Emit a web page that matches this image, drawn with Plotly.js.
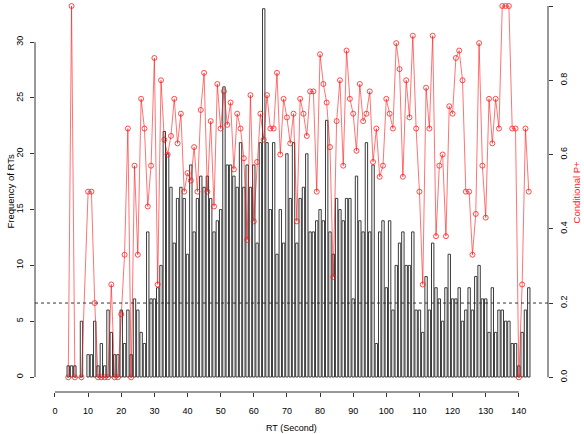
<!DOCTYPE html>
<html>
<head>
<meta charset="utf-8">
<script src="https://cdn.plot.ly/plotly-3.0.1.min.js"></script>
<style>html,body{margin:0;padding:0;background:#fff;}#chart{width:584px;height:434px;}</style>
</head>
<body>
<div id="chart"></div>
<script>
// RT bins (seconds) that contain responses
var rt = [4,5,6,8,
  10,11,12,13,14,15,16,17,18,19,
  20,21,22,23,24,25,26,27,28,29,
  30,31,32,33,34,35,36,37,38,39,
  40,41,42,43,44,45,46,47,48,49,
  50,51,52,53,54,55,56,57,58,59,
  60,61,62,63,64,65,66,67,68,69,
  70,71,72,73,74,75,76,77,78,79,
  80,81,82,83,84,85,86,87,88,89,
  90,91,92,93,94,95,96,97,98,99,
  100,101,102,103,104,105,106,107,108,109,
  110,111,112,113,114,115,116,117,118,119,
  120,121,122,123,124,125,126,127,128,129,
  130,131,132,133,134,135,136,137,138,139,
  140,141,142,143];

// Frequency of RTs per bin
var freq = [1,1,1,5,
  2,2,5,1,3,1,6,4,2,2,
  6,3,6,2,7,6,4,3,13,7,
  7,8,10,22,20,17,12,16,17,16,
  11,19,13,16,18,17,18,16,13,14,
  15,26,19,19,18,17,21,17,19,17,
  19,12,21,33,21,15,21,11,15,12,
  20,16,21,12,16,17,20,13,13,14,
  15,14,23,13,11,16,15,14,16,16,
  7,18,14,13,21,13,19,3,13,14,
  8,14,6,10,12,13,10,10,13,6,
  6,4,9,6,12,8,7,5,8,11,
  7,7,8,5,6,8,6,9,10,7,
  7,4,8,4,6,6,5,5,3,3,
  1,4,6,8];

// Conditional P+ per bin
var pplus = [0,1,0,0,
  0.5,0.5,0.2,0,0,0,0,0.25,0,0,
  0.17,0.33,0.67,0,0.57,0.33,0.75,0.67,0.46,0.57,
  0.86,0.25,0.8,0.64,0.6,0.65,0.75,0.63,0.71,0.5,
  0.55,0.53,0.62,0.5,0.72,0.82,0.5,0.69,0.46,0.79,
  0.67,0.77,0.68,0.74,0.56,0.71,0.67,0.59,0.37,0.76,
  0.42,0.58,0.71,0.64,0.76,0.67,0.67,0.82,0.6,0.75,
  0.7,0.63,0.71,0.42,0.75,0.71,0.65,0.77,0.77,0.5,
  0.87,0.79,0.74,0.62,0.27,0.69,0.8,0.57,0.88,0.75,
  0.71,0.61,0.79,0.69,0.71,0.77,0.58,0.67,0.54,0.57,
  0.75,0.71,0.67,0.9,0.83,0.54,0.8,0.7,0.92,0.67,
  0.5,0.25,0.78,0.67,0.92,0.38,0.57,0.6,0.38,0.73,
  0.71,0.86,0.88,0.8,0.5,0.5,0.33,0.44,0.9,0.57,
  0.43,0.75,0.63,0.75,0.67,1,1,1,0.67,0.67,
  0,0.25,0.67,0.5];

var xTicks = [0,10,20,30,40,50,60,70,80,90,100,110,120,130,140];
var yTicks = [0,5,10,15,20,25,30];
var y2Ticks = [0,0.2,0.4,0.6,0.8,1.0];
var y2TickText = ['0.0','0.2','0.4','0.6','0.8','1.0'];
var refLine = 0.2;

var FONT = 'Liberation Sans, Arial, sans-serif';

var bars = {
  type: 'bar', x: rt, y: freq, width: 0.72,
  marker: {color: 'rgba(255,255,255,0)', line: {color: '#3a3a3a', width: 1}},
  hoverinfo: 'x+y', showlegend: false
};
var prob = {
  type: 'scatter', mode: 'lines+markers', x: rt, y: pplus, yaxis: 'y2',
  line: {color: 'rgba(255,0,0,0.55)', width: 1},
  marker: {symbol: 'circle-open', size: 5, color: 'rgba(255,20,20,0.75)', line: {width: 1}},
  showlegend: false, cliponaxis: false
};

var layout = {
  width: 584, height: 434,
  margin: {l: 35, r: 36, t: 0, b: 42, pad: 0},
  paper_bgcolor: '#fff', plot_bgcolor: '#fff',
  font: {family: FONT, size: 9, color: '#000'},
  xaxis: {
    range: [-6.03, 148.8], tickvals: xTicks, ticks: 'outside', ticklen: 4,
    tickcolor: '#333', showgrid: false, zeroline: false, showline: false,
    tickfont: {size: 9}, ticklabelstandoff: 6
  },
  yaxis: {
    range: [-1.344, 33.78], tickvals: yTicks, ticks: 'outside', ticklen: 4,
    tickcolor: '#333', showgrid: false, zeroline: false, showline: false,
    tickangle: -90, tickfont: {size: 9}, ticklabelstandoff: 3
  },
  yaxis2: {
    range: [-0.0396, 1.0162], overlaying: 'y', side: 'right',
    tickvals: y2Ticks, ticktext: y2TickText, ticks: 'outside', ticklen: 4,
    tickcolor: '#333', showgrid: false, zeroline: false, showline: false,
    tickangle: -90, tickfont: {size: 9}, ticklabelstandoff: 3
  },
  shapes: [
    {type: 'line', xref: 'x', yref: 'paper', x0: 0, x1: 140, y0: 0, y1: 0, line: {color: '#333', width: 1}},
    {type: 'line', xref: 'paper', yref: 'y', x0: 0, x1: 0, y0: 0, y1: 30, line: {color: '#333', width: 1}},
    {type: 'line', xref: 'paper', yref: 'y2', x0: 1, x1: 1, y0: 0, y1: 1, line: {color: '#333', width: 1}},
    {type: 'line', xref: 'paper', yref: 'y2', x0: 0, x1: 1, y0: refLine, y1: refLine, line: {color: '#333', width: 1, dash: '3px,3px'}}
  ],
  annotations: [
    {text: 'RT (Second)', xref: 'paper', yref: 'paper', x: 0.5, y: -0.0916, xanchor: 'center', yanchor: 'middle', showarrow: false, font: {size: 9}},
    {text: 'Frequency of RTs', xref: 'paper', yref: 'paper', x: -0.0487, y: 0.5115, xanchor: 'center', yanchor: 'middle', textangle: -90, showarrow: false, font: {size: 9.5}},
    {text: 'Conditional P+', xref: 'paper', yref: 'paper', x: 1.0565, y: 0.5115, xanchor: 'center', yanchor: 'middle', textangle: -90, showarrow: false, font: {size: 9.5, color: '#ff2020'}}
  ]
};

Plotly.newPlot('chart', [bars, prob], layout, {displayModeBar: false, staticPlot: true});
</script>
</body>
</html>
